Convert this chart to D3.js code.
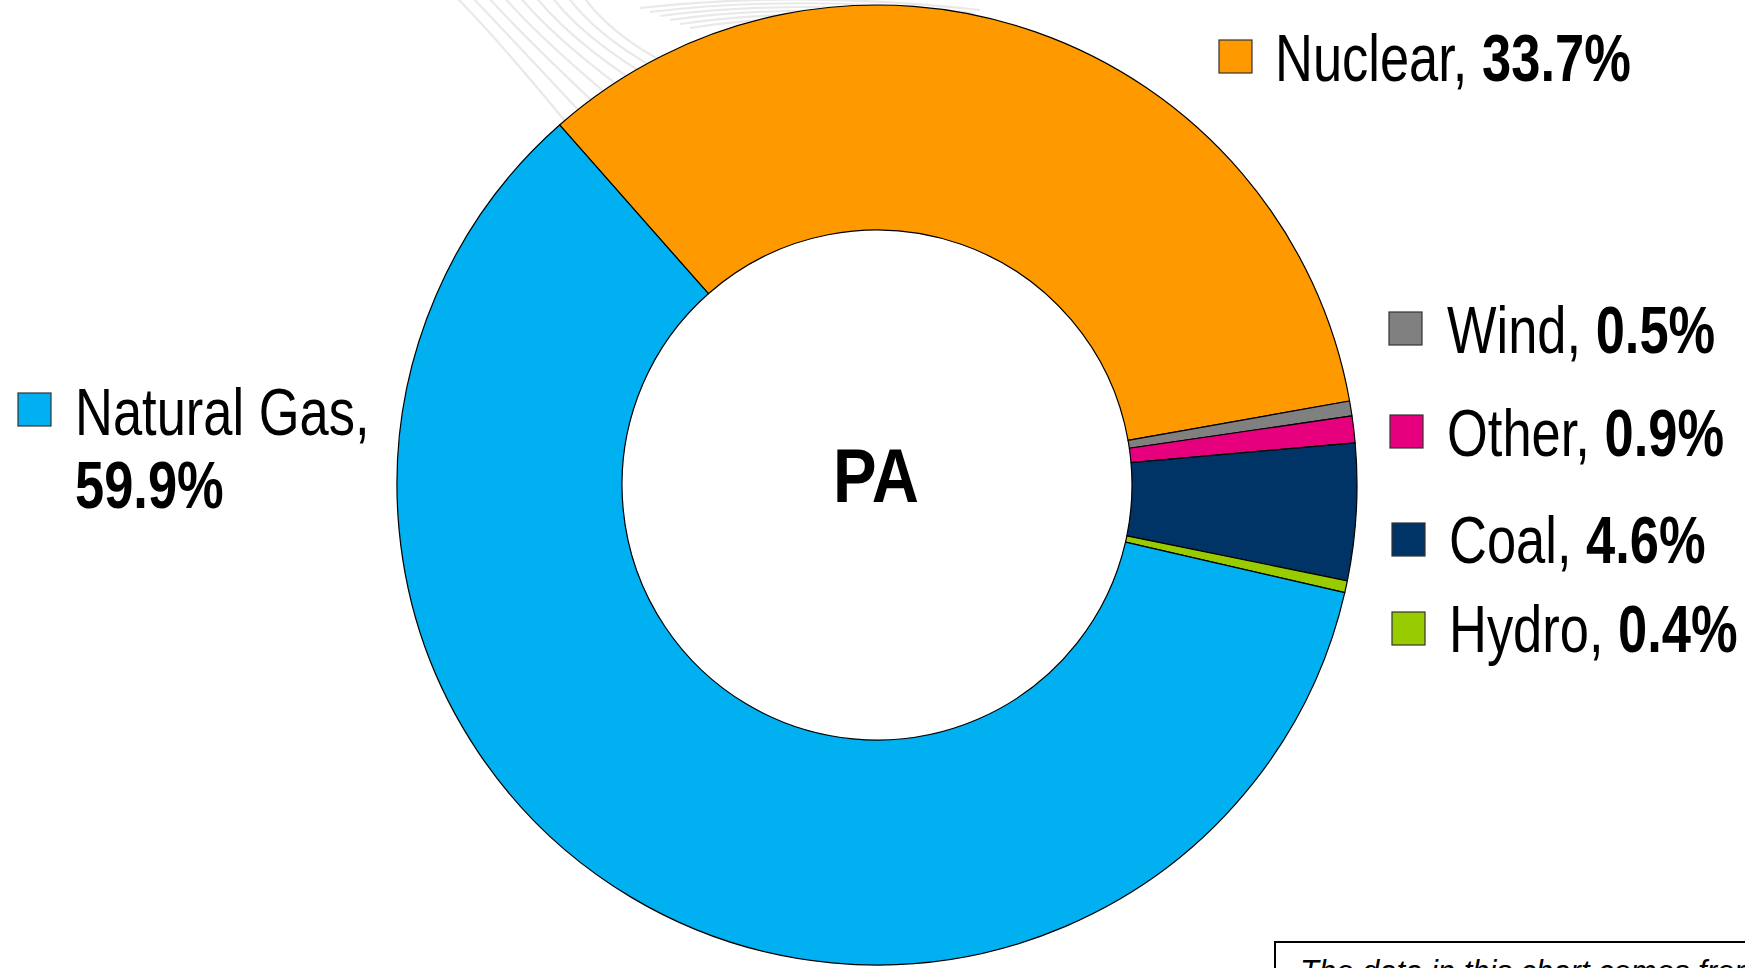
<!DOCTYPE html>
<html>
<head>
<meta charset="utf-8">
<script src="https://cdn.jsdelivr.net/npm/d3@7/dist/d3.min.js"></script>
<style>
  html, body { margin: 0; padding: 0; background: #ffffff; overflow: hidden; }
  svg { display: block; }
  .lbl { font-family: "Liberation Sans", Arial, sans-serif; fill: #000; }
</style>
</head>
<body>
<svg id="chart" width="1745" height="968"></svg>
<script>
// ---- data ----
const categories = ["Nuclear", "Wind", "Other", "Coal", "Hydro", "Natural Gas"];
const values = [33.7, 0.5, 0.9, 4.6, 0.4, 59.9];
const colors = ["#FF9900", "#808080", "#E6007E", "#003366", "#99CC00", "#00B0F0"];
const centerLabel = "PA";
const footnote = "The data in this chart comes from the U.S. Energy Information Administration";

// ---- layout ----
const W = 1745, H = 968;
const cx = 877, cy = 485, rOuter = 480, rInner = 255;
const startDeg = -41.4;

const svg = d3.select("#chart");

// faint decorative watermark arcs behind the donut
const deco = svg.append("g").attr("fill", "none").attr("stroke", "#e9e9e9").attr("stroke-width", 2.2);
for (let i = 0; i < 9; i++) {
  const p = d3.path();
  const x0 = 455 + i * 16, y0 = -4;
  p.moveTo(x0, y0);
  p.quadraticCurveTo(x0 + 40, y0 + 40 + i * 2, x0 + 110 + i * 4, y0 + 125 - i * 4);
  deco.append("path").attr("d", p.toString());
}
for (let i = 0; i < 6; i++) {
  const p = d3.path();
  p.moveTo(640 + i * 10, 8 + i * 4);
  p.quadraticCurveTo(800, -10 + i * 4, 980 - i * 6, 10 + i * 3);
  deco.append("path").attr("d", p.toString());
}

const pie = d3.pie().value(d => d).sort(null)
  .startAngle(startDeg * Math.PI / 180)
  .endAngle((startDeg + 360) * Math.PI / 180);
const arc = d3.arc().innerRadius(rInner).outerRadius(rOuter);

const g = svg.append("g").attr("transform", `translate(${cx},${cy})`);
g.selectAll("path.slice")
  .data(pie(values))
  .join("path")
  .attr("class", "slice")
  .attr("d", arc)
  .attr("fill", (d, i) => colors[i])
  .attr("stroke", "#000")
  .attr("stroke-width", 1.2)
  .attr("stroke-linejoin", "round");

// center label
g.append("g")
  .attr("transform", "translate(-1,-10) scale(0.86,1)")
  .append("text")
  .attr("class", "lbl")
  .attr("dy", "0.36em")
  .attr("text-anchor", "middle")
  .attr("font-size", 76)
  .attr("font-weight", "bold")
  .text(centerLabel);

// legend-style labels: [swatch x, swatch y, text x, baseline y, two-line]
const labelPos = [
  [1219, 40, 1275, 81, false],
  [1389, 312, 1447, 353, false],
  [1390, 415, 1447, 456, false],
  [1392, 523, 1449, 563, false],
  [1392, 612, 1449, 652, false],
  [18, 393, 75, 435, true]
];
const fontSize = 66, sx = 0.795, sw = 33;

categories.forEach((c, i) => {
  const [bx, by, tx, ty, two] = labelPos[i];
  svg.append("rect")
    .attr("x", bx).attr("y", by).attr("width", sw).attr("height", sw)
    .attr("fill", colors[i]).attr("stroke", "#333").attr("stroke-width", 1.2);
  const pct = d3.format(".1f")(values[i]) + "%";
  const tg = svg.append("g").attr("transform", `translate(${tx},${ty}) scale(${sx},1)`);
  if (!two) {
    const t = tg.append("text").attr("class", "lbl").attr("font-size", fontSize);
    t.append("tspan").text(c + ", ");
    t.append("tspan").attr("font-weight", "bold").text(pct);
  } else {
    tg.append("text").attr("class", "lbl").attr("font-size", fontSize).text(c + ",");
    tg.append("text").attr("class", "lbl").attr("font-size", fontSize)
      .attr("y", 73).attr("font-weight", "bold").text(pct);
  }
});

// footnote box (mostly cut off at the bottom right)
svg.append("rect")
  .attr("x", 1275).attr("y", 942).attr("width", 520).attr("height", 80)
  .attr("fill", "#fff").attr("stroke", "#000").attr("stroke-width", 2);
svg.append("text")
  .attr("x", 1300).attr("y", 982)
  .attr("font-family", "Liberation Sans, Arial, sans-serif")
  .attr("font-style", "italic")
  .attr("font-size", 31)
  .attr("fill", "#000")
  .text(footnote);
</script>
</body>
</html>
